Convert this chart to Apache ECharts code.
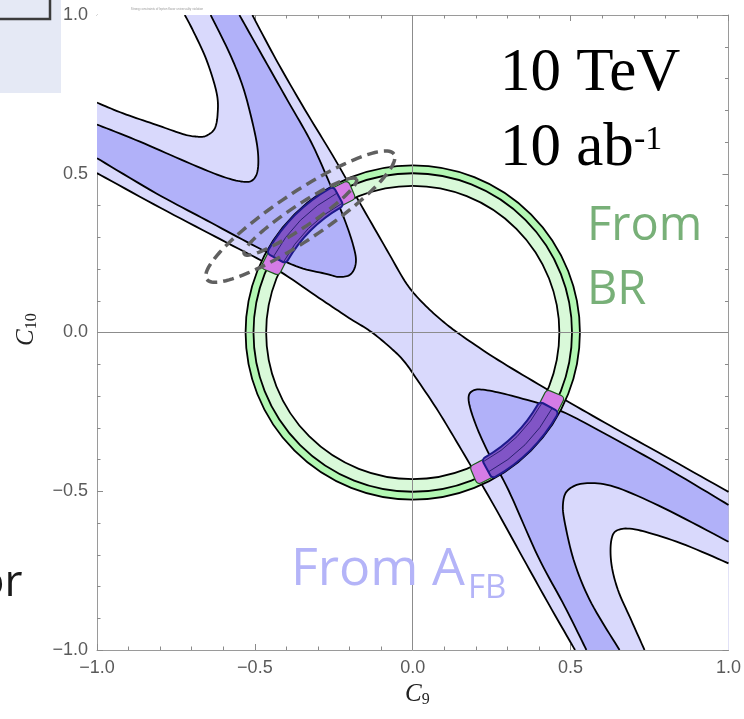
<!DOCTYPE html>
<html>
<head>
<meta charset="utf-8">
<script src="https://cdn.jsdelivr.net/npm/echarts@6/dist/echarts.min.js"></script>
<style>
  html, body { margin: 0; padding: 0; background: #fff; }
  #chart { width: 744px; height: 719px; }
</style>
</head>
<body>
<div id="chart"></div>
<script>
// Axis extent and tick labels
const axisRange = [-1, 1];
const tickValues = [-1.0, -0.5, 0.0, 0.5, 1.0];
const tickLabels = ['\u22121.0', '\u22120.5', '0.0', '0.5', '1.0'];

// A_FB contours in the (C9, C10) plane
// central band: upper-right and lower-left boundaries
const afbBandUpper = [[-0.508,1.0],[-0.432,0.858],[-0.341,0.701],[-0.249,0.550],[-0.164,0.402],[-0.082,0.260],[-0.019,0.153],[0.035,0.090],[0.098,0.033],[0.161,-0.014],[0.271,-0.087],[0.429,-0.181],[0.587,-0.272],[0.798,-0.389],[1.0,-0.502]];
const afbBandLower = [[-1.0,0.502],[-0.798,0.392],[-0.587,0.282],[-0.438,0.203],[-0.297,0.109],[-0.202,0.046],[-0.136,0.005],[-0.076,-0.043],[-0.028,-0.090],[0.019,-0.156],[0.082,-0.250],[0.164,-0.386],[0.256,-0.543],[0.344,-0.701],[0.432,-0.858],[0.514,-1.0]];
// upper-left branch
const afbTongueUL = [[-0.549,1.0],[-0.476,0.871],[-0.397,0.732],[-0.322,0.600],[-0.265,0.474],[-0.218,0.361],[-0.189,0.276],[-0.180,0.222],[-0.196,0.184],[-0.233,0.175],[-0.271,0.184],[-0.370,0.209],[-0.496,0.270],[-0.654,0.354],[-0.812,0.438],[-1.0,0.549]];
const afbMidUL = [[-1.0,0.655],[-0.864,0.601],[-0.707,0.533],[-0.602,0.491],[-0.538,0.475],[-0.507,0.480],[-0.491,0.512],[-0.491,0.575],[-0.507,0.659],[-0.538,0.774],[-0.580,0.879],[-0.640,1.0]];
const afbInnerUL = [[-1.0,0.724],[-0.917,0.690],[-0.812,0.654],[-0.728,0.625],[-0.685,0.617],[-0.656,0.619],[-0.628,0.641],[-0.618,0.688],[-0.621,0.754],[-0.653,0.858],[-0.697,0.953],[-0.722,1.0]];
// lower-right branch
const afbTongueLR = [[1.0,-0.543],[0.797,-0.423],[0.587,-0.307],[0.461,-0.244],[0.324,-0.202],[0.229,-0.181],[0.189,-0.184],[0.177,-0.213],[0.198,-0.286],[0.240,-0.380],[0.303,-0.496],[0.397,-0.706],[0.482,-0.864],[0.550,-1.0]];
const afbMidLR = [[1.0,-0.659],[0.797,-0.554],[0.639,-0.486],[0.545,-0.475],[0.492,-0.496],[0.476,-0.538],[0.482,-0.601],[0.513,-0.727],[0.566,-0.853],[0.655,-1.0]];
const afbInnerLR = [[1.0,-0.727],[0.850,-0.664],[0.713,-0.622],[0.650,-0.622],[0.629,-0.654],[0.629,-0.727],[0.650,-0.811],[0.692,-0.906],[0.734,-1.0]];

// BR constraint: ring centred on the SM point (outer, middle, inner contour)
const brCenter = [0, 0];
const brRadii = [0.528, 0.503, 0.463];

// combined region on the ring (polar angle in degrees)
const overlapOuter = [[113, 157], [-67, -23]];
const overlapCore = [[118.5, 151.5], [-61.5, -28.5]];

// dashed ellipses of the fit
const ellipseCenter = [-0.356, 0.365];
const ellipseAxes = [[0.356, 0.075], [0.213, 0.035]];
const ellipseTilt = 33.6;

const LIGHT = '#d9d9fc';
const DARK = '#b1b1f9';

// Catmull-Rom resampling in pixel space so fills and strokes share one outline
function smooth(p, n) {
  n = n || 10;
  const out = [];
  for (let i = 0; i < p.length - 1; i++) {
    const p0 = p[i - 1] || p[i], p1 = p[i], p2 = p[i + 1], p3 = p[i + 2] || p[i + 1];
    for (let k = 0; k < n; k++) {
      const t = k / n, t2 = t * t, t3 = t2 * t;
      out.push([0, 1].map(j => 0.5 * (2 * p1[j] + (-p0[j] + p2[j]) * t +
        (2 * p0[j] - 5 * p1[j] + 4 * p2[j] - p3[j]) * t2 +
        (-p0[j] + 3 * p1[j] - 3 * p2[j] + p3[j]) * t3)));
    }
  }
  out.push(p[p.length - 1]);
  return out;
}

// region = list of parts: {c: curve} or {rev: curve} or {p: point}
function regionSeries(parts, fill) {
  return {
    type: 'custom', coordinateSystem: 'cartesian2d', clip: true, silent: true,
    data: [[0, 0]],
    renderItem: function (params, api) {
      let pts = [];
      parts.forEach(part => {
        if (part.c) pts = pts.concat(smooth(part.c.map(q => api.coord(q))));
        else if (part.rev) pts = pts.concat(smooth(part.rev.slice().reverse().map(q => api.coord(q))));
        else pts.push(api.coord(part.p));
      });
      return { type: 'polygon', shape: { points: pts }, style: { fill: fill, stroke: null } };
    }
  };
}

function curveSeries(curve) {
  return {
    type: 'custom', coordinateSystem: 'cartesian2d', clip: true, silent: true,
    data: [[0, 0]],
    renderItem: function (params, api) {
      return { type: 'polyline', shape: { points: smooth(curve.map(q => api.coord(q))) },
        style: { fill: null, stroke: '#000', lineWidth: 1.8 } };
    }
  };
}

function radius(api, r) {
  const s = api.size([r, r]);
  return (s[0] + s[1]) / 2;
}

const series = [
  regionSeries([{c: afbBandUpper}, {p: [1, -1]}, {rev: afbBandLower}, {p: [-1, 1]}], LIGHT),
  regionSeries([{c: afbTongueUL}, {p: [-1, 1]}], DARK),
  regionSeries([{c: afbMidUL}, {p: [-1, 1]}], LIGHT),
  regionSeries([{c: afbInnerUL}, {p: [-1, 1]}], '#ffffff'),
  regionSeries([{c: afbTongueLR}, {p: [1, -1]}], DARK),
  regionSeries([{c: afbMidLR}, {p: [1, -1]}], LIGHT),
  regionSeries([{c: afbInnerLR}, {p: [1, -1]}], '#ffffff'),
  curveSeries(afbBandUpper), curveSeries(afbBandLower),
  curveSeries(afbTongueUL), curveSeries(afbMidUL), curveSeries(afbInnerUL),
  curveSeries(afbTongueLR), curveSeries(afbMidLR), curveSeries(afbInnerLR),
  {
    // BR ring
    type: 'custom', coordinateSystem: 'cartesian2d', silent: true,
    data: [brCenter],
    renderItem: function (params, api) {
      const c = api.coord(brCenter);
      const r = brRadii.map(v => radius(api, v));
      const kids = [
        { type: 'ring', shape: { cx: c[0], cy: c[1], r: r[0], r0: r[1] }, style: { fill: '#b3f7b3' } },
        { type: 'ring', shape: { cx: c[0], cy: c[1], r: r[1], r0: r[2] }, style: { fill: '#d9f9d9' } }
      ];
      r.forEach(rr => kids.push({ type: 'circle', shape: { cx: c[0], cy: c[1], r: rr },
        style: { fill: null, stroke: '#000', lineWidth: 1.8 } }));
      return { type: 'group', children: kids };
    }
  },
  {
    // combined BR + A_FB region along the ring
    type: 'custom', coordinateSystem: 'cartesian2d', silent: true,
    data: [brCenter],
    renderItem: function (params, api) {
      const c = api.coord(brCenter);
      const r1 = radius(api, brRadii[0] - 0.006), r2 = radius(api, brRadii[2] - 0.004);
      const r3 = radius(api, brRadii[1] - 0.002), r4 = radius(api, brRadii[2] + 0.002);
      const d = Math.PI / 180;
      const kids = [];
      overlapOuter.forEach(a => kids.push({ type: 'sector',
        shape: { cx: c[0], cy: c[1], r: r1, r0: r2, startAngle: -a[1] * d, endAngle: -a[0] * d, clockwise: true, cornerRadius: 4 },
        style: { fill: '#d47ce6', stroke: '#1c5a1c', lineWidth: 1.2 } }));
      overlapCore.forEach(a => kids.push({ type: 'sector',
        shape: { cx: c[0], cy: c[1], r: r1 + 1, r0: r2 - 1, startAngle: -a[1] * d, endAngle: -a[0] * d, clockwise: true, cornerRadius: 4 },
        style: { fill: '#8155c6', stroke: '#1e1a8c', lineWidth: 2 } }));
      overlapCore.forEach(a => kids.push({ type: 'arc',
        shape: { cx: c[0], cy: c[1], r: r3, startAngle: -a[1] * d, endAngle: -a[0] * d, clockwise: true },
        style: { fill: null, stroke: '#2a2070', lineWidth: 1 } }));
      overlapCore.forEach(a => kids.push({ type: 'arc',
        shape: { cx: c[0], cy: c[1], r: r4, startAngle: -a[1] * d, endAngle: -a[0] * d, clockwise: true },
        style: { fill: null, stroke: '#2a2070', lineWidth: 1 } }));
      return { type: 'group', children: kids };
    }
  },
  {
    // dashed ellipses
    type: 'custom', coordinateSystem: 'cartesian2d', silent: true,
    data: [ellipseCenter],
    renderItem: function (params, api) {
      const phi = ellipseTilt * Math.PI / 180;
      const kids = ellipseAxes.map(ax => {
        const pts = [];
        for (let i = 0; i <= 120; i++) {
          const t = i / 120 * 2 * Math.PI;
          const u = ax[0] * Math.cos(t), v = ax[1] * Math.sin(t);
          pts.push(api.coord([ellipseCenter[0] + u * Math.cos(phi) - v * Math.sin(phi),
                              ellipseCenter[1] + u * Math.sin(phi) + v * Math.cos(phi)]));
        }
        return { type: 'polyline', shape: { points: pts },
          style: { fill: null, stroke: '#606060', lineWidth: 3.5, lineDash: [11, 6] } };
      });
      return { type: 'group', children: kids };
    }
  },
  {
    // coordinate axes through the origin
    type: 'line', data: [], silent: true, z: 5,
    markLine: {
      silent: true, symbol: 'none', animation: false,
      label: { show: false },
      lineStyle: { color: '#8c8c8c', width: 1, type: 'solid' },
      data: [{ xAxis: 0 }, { yAxis: 0 }]
    }
  }
];

function tickFmt(v) {
  const i = tickValues.indexOf(Math.round(v * 10) / 10);
  return i >= 0 ? tickLabels[i] : '';
}

function frameAxis(pos, labels) {
  return {
    type: 'value', position: pos, min: axisRange[0], max: axisRange[1], interval: 0.5,
    axisLine: { show: true, onZero: false, lineStyle: { color: '#9a9a9a', width: 1 } },
    axisTick: { show: true, inside: true, length: 6, lineStyle: { color: '#8a8a8a' } },
    minorTick: { show: true, splitNumber: 5, length: 3.5, lineStyle: { color: '#8a8a8a' } },
    splitLine: { show: false },
    axisLabel: labels ? { show: true, formatter: tickFmt, color: '#5a5a5a',
      fontFamily: 'Liberation Sans', fontSize: 18, margin: 9 } : { show: false }
  };
}

const chart = echarts.init(document.getElementById('chart'), null, { renderer: 'canvas' });
chart.setOption({
  animation: false,
  backgroundColor: '#ffffff',
  grid: { left: 97, right: 13, top: 15, bottom: 69 },
  xAxis: [frameAxis('bottom', true), frameAxis('top', false)],
  yAxis: [frameAxis('left', true), frameAxis('right', false)],
  series: series,
  graphic: [
    { type: 'rect', left: 0, top: 0, z: 50, shape: { width: 61, height: 93 }, style: { fill: '#e5e9f5' } },
    { type: 'rect', x: -6, y: -6, z: 51, shape: { width: 56, height: 25 }, style: { fill: '#e5e9f5', stroke: '#3c3c3c', lineWidth: 2.5 } },
    { type: 'text', x: 167, y: 9, z: 50, style: { text: 'Strong constraints of lepton flavor universality violation', fill: '#9a9a9a', font: '3px "Liberation Sans"', textAlign: 'center', verticalAlign: 'middle' } },
    { type: 'text', x: 500, y: 74, z: 50, style: { text: '10 TeV', fill: '#000', font: '61px "Liberation Serif"', textAlign: 'left', verticalAlign: 'middle' } },
    { type: 'text', x: 500, y: 149, z: 50, style: { text: '10 ab', fill: '#000', font: '61px "Liberation Serif"', textAlign: 'left', verticalAlign: 'middle' } },
    { type: 'text', x: 634, y: 140, z: 50, style: { text: '-1', fill: '#000', font: '34px "Liberation Serif"', textAlign: 'left', verticalAlign: 'middle' } },
    { type: 'text', x: 587, y: 227, z: 50, style: { text: 'From', fill: '#78b078', font: '47px "Open Sans"', textAlign: 'left', verticalAlign: 'middle' } },
    { type: 'text', x: 587, y: 291, z: 50, style: { text: 'BR', fill: '#78b078', font: '47px "Open Sans"', textAlign: 'left', verticalAlign: 'middle' } },
    { type: 'text', x: 291, y: 570, z: 50, style: { text: 'From A', fill: '#b4b4f8', font: '52px "Open Sans"', textAlign: 'left', verticalAlign: 'middle' } },
    { type: 'text', x: 468, y: 589, z: 50, style: { text: 'FB', fill: '#b4b4f8', font: '33px "Open Sans"', textAlign: 'left', verticalAlign: 'middle' } },
    { type: 'text', x: -22, y: 583, z: 50, style: { text: 'or', fill: '#1a1a1a', font: '44px "Open Sans"', textAlign: 'left', verticalAlign: 'middle' } },
    { type: 'text', x: 405, y: 694, z: 50, style: { text: '{c|C}{s|9}', textAlign: 'left', verticalAlign: 'middle',
      rich: { c: { fontFamily: 'Liberation Serif', fontStyle: 'italic', fontSize: 25, fill: '#222' },
              s: { fontFamily: 'Liberation Serif', fontSize: 16, fill: '#222', verticalAlign: 'bottom', padding: [12, 0, 0, 0] } } } },
    { type: 'text', x: 26, y: 346, rotation: Math.PI / 2, z: 50, style: { text: '{c|C}{s|10}', textAlign: 'left', verticalAlign: 'middle',
      rich: { c: { fontFamily: 'Liberation Serif', fontStyle: 'italic', fontSize: 25, fill: '#222' },
              s: { fontFamily: 'Liberation Serif', fontSize: 16, fill: '#222', verticalAlign: 'bottom', padding: [12, 0, 0, 0] } } } }
  ]
});
</script>
</body>
</html>
